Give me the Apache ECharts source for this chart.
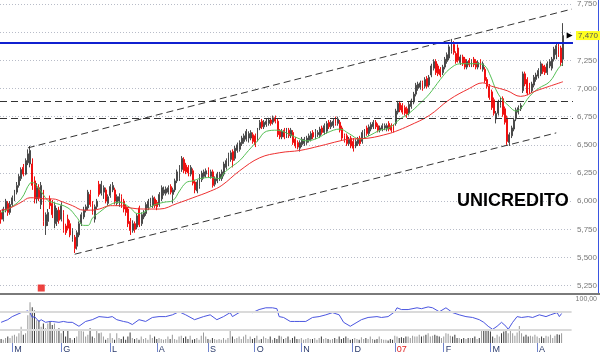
<!DOCTYPE html>
<html><head><meta charset="utf-8">
<script src="https://cdn.jsdelivr.net/npm/echarts@6/dist/echarts.min.js"></script>
<style>html,body{margin:0;padding:0;background:#fff}#c{width:600px;height:354px}</style>
</head><body><div id="c"></div>
<script>
// ---- price data (daily candles) ----
const openP = [5.90,5.84,5.92,5.98,5.90,5.97,6.02,6.08,6.14,6.20,
6.30,6.24,6.34,6.33,6.33,6.18,6.02,6.12,5.97,6.08,
5.78,5.82,6.02,5.98,5.80,5.82,5.92,5.84,5.90,5.78,
5.84,5.80,5.66,5.68,5.60,5.70,5.80,5.86,5.92,5.94,
6.06,5.98,5.84,5.95,6.15,6.07,6.08,6.10,5.98,6.05,
6.10,6.10,5.98,6.00,6.04,6.00,5.95,5.93,5.82,5.74,
5.80,5.77,5.94,5.80,5.86,5.89,5.94,5.98,5.96,6.02,
5.99,5.97,6.02,6.07,6.07,6.08,6.13,6.06,6.10,6.18,
6.20,6.28,6.37,6.32,6.30,6.24,6.27,6.17,6.09,6.13,
6.19,6.22,6.24,6.28,6.22,6.26,6.15,6.18,6.20,6.20,
6.24,6.30,6.33,6.37,6.44,6.38,6.45,6.46,6.51,6.53,
6.55,6.56,6.56,6.59,6.58,6.55,6.65,6.71,6.66,6.68,
6.69,6.72,6.70,6.74,6.71,6.62,6.57,6.63,6.58,6.63,
6.58,6.61,6.55,6.52,6.47,6.50,6.51,6.52,6.54,6.55,
6.61,6.57,6.59,6.58,6.65,6.61,6.62,6.70,6.66,6.67,
6.73,6.69,6.70,6.65,6.58,6.58,6.51,6.56,6.53,6.49,
6.51,6.56,6.53,6.58,6.65,6.60,6.64,6.66,6.70,6.67,
6.63,6.64,6.65,6.64,6.69,6.67,6.66,6.69,6.79,6.87,
6.85,6.83,6.82,6.78,6.84,6.88,6.95,7.00,7.01,7.05,
7.02,7.09,7.03,7.12,7.18,7.24,7.20,7.17,7.14,7.19,
7.24,7.27,7.33,7.39,7.31,7.36,7.23,7.28,7.26,7.19,
7.25,7.21,7.26,7.24,7.19,7.24,7.17,7.17,7.08,7.02,
6.97,6.90,6.73,6.78,6.85,6.91,6.82,6.74,6.52,6.58,
6.64,6.73,6.79,6.82,6.98,7.13,7.08,7.03,6.98,7.03,
7.08,7.11,7.13,7.20,7.19,7.14,7.20,7.18,7.26,7.30,
7.37,7.36,7.26];
const closeP = [5.84,5.93,6.00,5.90,5.97,6.03,6.08,6.14,6.22,6.28,
6.24,6.36,6.42,6.45,6.14,6.02,6.12,6.03,6.14,5.82,
5.88,5.90,5.96,5.88,5.96,5.92,5.83,5.96,5.74,5.72,
5.76,5.70,5.74,5.58,5.72,5.80,5.88,5.92,5.95,6.08,
5.97,5.90,5.95,6.00,6.06,6.15,6.12,6.00,6.04,6.13,
6.14,6.00,6.04,6.04,5.96,5.93,5.90,5.80,5.74,5.80,
5.75,5.87,5.79,5.88,5.90,5.97,6.00,6.01,6.03,5.96,
5.95,6.06,6.12,6.10,6.11,6.12,6.08,6.10,6.18,6.26,
6.30,6.38,6.27,6.26,6.25,6.30,6.16,6.10,6.17,6.22,
6.25,6.26,6.27,6.23,6.26,6.14,6.20,6.24,6.24,6.26,
6.33,6.36,6.41,6.43,6.36,6.47,6.50,6.52,6.56,6.58,
6.62,6.60,6.61,6.53,6.50,6.63,6.70,6.66,6.70,6.71,
6.72,6.69,6.74,6.71,6.59,6.57,6.62,6.57,6.63,6.58,
6.63,6.52,6.49,6.48,6.52,6.55,6.55,6.56,6.58,6.60,
6.57,6.62,6.61,6.64,6.61,6.67,6.69,6.66,6.70,6.71,
6.69,6.73,6.63,6.56,6.54,6.51,6.55,6.49,6.47,6.53,
6.55,6.51,6.61,6.62,6.60,6.66,6.68,6.70,6.66,6.63,
6.65,6.67,6.67,6.67,6.64,6.63,6.63,6.80,6.87,6.81,
6.79,6.78,6.77,6.86,6.89,6.95,7.03,7.04,7.05,7.00,
7.08,7.02,7.10,7.20,7.24,7.14,7.13,7.12,7.19,7.26,
7.30,7.37,7.40,7.32,7.24,7.25,7.28,7.22,7.19,7.24,
7.21,7.24,7.21,7.19,7.23,7.19,7.22,7.07,7.02,6.92,
6.83,6.78,6.78,6.88,6.90,6.77,6.70,6.53,6.59,6.65,
6.72,6.81,6.83,6.85,7.13,7.04,6.96,6.97,7.04,7.10,
7.12,7.16,7.22,7.15,7.14,7.22,7.24,7.26,7.35,7.38,
7.30,7.23,7.47];
const lowP = [5.80,5.82,5.90,5.87,5.88,5.95,6.00,6.06,6.12,6.18,
6.22,6.23,6.32,6.30,6.10,5.98,5.98,6.00,5.93,5.78,
5.70,5.78,5.93,5.85,5.76,5.78,5.80,5.82,5.72,5.70,
5.74,5.68,5.64,5.54,5.57,5.68,5.78,5.84,5.90,5.92,
5.95,5.88,5.81,5.93,6.04,6.05,6.02,5.98,5.96,6.03,
6.08,5.97,5.96,5.95,5.94,5.90,5.87,5.77,5.70,5.72,
5.72,5.75,5.77,5.78,5.84,5.87,5.92,5.95,5.94,5.94,
5.92,5.95,6.00,6.05,6.05,6.06,6.06,5.98,6.08,6.16,
6.18,6.26,6.25,6.24,6.22,6.22,6.14,6.07,6.07,6.11,
6.17,6.20,6.21,6.21,6.20,6.12,6.13,6.16,6.18,6.18,
6.22,6.28,6.31,6.35,6.30,6.36,6.43,6.44,6.49,6.51,
6.53,6.52,6.54,6.51,6.48,6.53,6.63,6.64,6.64,6.66,
6.67,6.67,6.68,6.69,6.57,6.55,6.55,6.55,6.56,6.56,
6.56,6.50,6.47,6.46,6.44,6.48,6.49,6.50,6.52,6.53,
6.55,6.55,6.57,6.56,6.59,6.59,6.60,6.64,6.64,6.65,
6.67,6.67,6.61,6.54,6.52,6.49,6.49,6.47,6.44,6.47,
6.49,6.49,6.51,6.56,6.58,6.58,6.62,6.64,6.64,6.61,
6.61,6.62,6.63,6.62,6.62,6.61,6.61,6.67,6.77,6.79,
6.77,6.76,6.74,6.76,6.82,6.86,6.93,6.98,6.99,6.98,
7.00,7.00,7.01,7.10,7.16,7.12,7.11,7.10,7.12,7.17,
7.22,7.25,7.31,7.30,7.22,7.23,7.21,7.20,7.17,7.17,
7.19,7.19,7.19,7.17,7.17,7.17,7.15,7.05,7.00,6.90,
6.81,6.76,6.69,6.76,6.83,6.75,6.68,6.50,6.49,6.56,
6.62,6.71,6.77,6.80,6.96,7.02,6.94,6.95,6.96,7.01,
7.06,7.09,7.11,7.13,7.12,7.12,7.18,7.16,7.24,7.26,
7.28,7.20,7.20];
const highP = [5.92,5.95,6.02,6.00,6.00,6.05,6.10,6.17,6.24,6.30,
6.33,6.38,6.46,6.49,6.38,6.22,6.16,6.15,6.17,6.10,
5.90,5.93,6.05,6.01,5.99,5.94,5.95,5.99,5.92,5.80,
5.88,5.83,5.76,5.70,5.74,5.82,5.90,5.95,5.97,6.10,
6.10,6.00,5.97,6.02,6.18,6.18,6.14,6.12,6.06,6.15,
6.17,6.12,6.06,6.07,6.06,6.02,5.97,5.95,5.85,5.83,
5.82,5.89,5.96,5.90,5.92,5.99,6.02,6.03,6.05,6.04,
6.01,6.08,6.14,6.13,6.13,6.14,6.15,6.12,6.20,6.28,
6.32,6.40,6.39,6.34,6.32,6.32,6.29,6.19,6.19,6.24,
6.27,6.28,6.29,6.30,6.28,6.28,6.22,6.26,6.26,6.28,
6.35,6.38,6.43,6.45,6.46,6.49,6.52,6.54,6.58,6.60,
6.64,6.62,6.63,6.61,6.60,6.65,6.72,6.73,6.72,6.73,
6.74,6.74,6.76,6.76,6.73,6.64,6.64,6.65,6.65,6.65,
6.65,6.63,6.57,6.54,6.54,6.57,6.57,6.58,6.60,6.62,
6.63,6.64,6.63,6.66,6.67,6.69,6.71,6.72,6.72,6.73,
6.75,6.75,6.72,6.67,6.60,6.60,6.57,6.58,6.56,6.55,
6.57,6.58,6.63,6.64,6.67,6.68,6.70,6.72,6.72,6.69,
6.67,6.69,6.69,6.69,6.71,6.69,6.68,6.82,6.89,6.89,
6.87,6.85,6.84,6.88,6.91,6.97,7.05,7.06,7.07,7.07,
7.10,7.11,7.12,7.22,7.26,7.26,7.22,7.19,7.21,7.28,
7.32,7.39,7.44,7.42,7.33,7.39,7.30,7.30,7.28,7.26,
7.27,7.26,7.28,7.26,7.25,7.26,7.24,7.19,7.10,7.04,
6.99,6.92,6.80,6.90,6.92,6.93,6.84,6.76,6.61,6.67,
6.74,6.83,6.85,6.87,7.15,7.15,7.10,7.05,7.06,7.12,
7.14,7.18,7.24,7.22,7.21,7.24,7.26,7.28,7.37,7.40,
7.40,7.38,7.58];
// volume (relative units)
const volume = [12,10,15,20,15,22,25,20,30,
50,25,30,85,125,110,100,70,70,50,60,45,
60,65,55,60,40,45,30,40,20,40,
15,10,15,20,40,40,35,20,25,45,
20,15,40,30,32,20,10,15,30,15,
10,30,15,12,20,10,20,32,15,12,
15,10,20,12,15,10,25,15,20,12,
15,12,10,12,20,12,25,12,10,20,
22,15,20,12,22,10,12,15,10,22,
32,20,12,10,15,12,10,12,10,15,
10,15,38,20,12,15,20,12,20,25,
12,20,12,15,22,10,12,20,15,12,
20,10,15,12,22,20,12,15,20,10,
15,20,12,
12,15,10,12,15,12,12,15,10,15,
20,12,15,12,10,12,15,12,20,12,
15,20,15,10,12,15,12,10,18,12,
15,12,20,12,10,12,20,12,10,10,
8,12,10,22,20,15,18,15,20,20,
15,22,20,20,25,20,22,25,30,20,
22,25,22,20,15,20,30,28,22,20,
25,15,15,12,15,12,15,15,15,20,
12,15,38,40,42,40,35,20,15,25,
20,30,35,40,30,38,30,22,32,52,
30,20,25,20,22,20,25,20,15,20,
15,22,20,25,15,22,27,25,30];
// moving averages read at sample points [dayIndex, value]
const maShort = [[0,5.90],[4,5.94],[9,6.02],[13,6.16],[14,6.165],[17,6.11],[21,6.005],[23,5.99],[30,5.94],[34,5.855],[37,5.785],[39,5.785],[41,5.85],[44,5.90],[49,5.97],[53,5.99],[58,5.94],[61,5.89],[64,5.90],[68,5.96],[73,5.99],[77,6.005],[80,6.09],[83,6.165],[86,6.18],[89,6.20],[94,6.21],[98,6.20],[100,6.25],[103,6.30],[107,6.36],[111,6.45],[115,6.535],[119,6.62],[124,6.63],[128,6.605],[133,6.56],[137,6.535],[142,6.56],[146,6.605],[152,6.64],[156,6.60],[161,6.55],[165,6.58],[170,6.63],[174,6.65],[179,6.73],[183,6.78],[188,6.87],[192,6.95],[197,7.08],[201,7.17],[206,7.22],[210,7.22],[214,7.22],[217,7.20],[219,7.135],[223,6.95],[228,6.84],[231,6.80],[233,6.82],[237,6.93],[241,7.00],[246,7.06],[250,7.18],[252,7.22]];
const maLong = [[0,5.92],[4,5.94],[9,5.99],[13,6.03],[16,6.03],[19,6.02],[23,6.02],[28,5.99],[32,5.96],[37,5.92],[40,5.92],[44,5.93],[49,5.96],[53,5.96],[58,5.94],[64,5.93],[71,5.93],[79,5.98],[86,6.03],[94,6.09],[99,6.14],[107,6.27],[116,6.385],[125,6.43],[134,6.45],[143,6.49],[152,6.535],[156,6.55],[165,6.56],[174,6.60],[177,6.62],[183,6.67],[192,6.76],[201,6.90],[210,7.00],[216,7.05],[220,7.02],[227,6.98],[233,6.93],[240,6.98],[246,7.02],[252,7.06]];
// oscillator (0-100) sample points
const osc = [[0,47],[3,53],[5,60],[9,69],[12,73],[13,69],[14,58],[15,60],[17,49],[18,53],[20,47],[22,49],[23,49],[26,47],[28,49],[30,47],[32,47],[35,38],[38,49],[41,53],[44,60],[48,58],[50,60],[52,53],[55,49],[57,47],[59,42],[62,53],[65,49],[68,58],[71,60],[74,60],[77,64],[80,71],[83,64],[87,53],[91,60],[94,64],[97,53],[100,60],[103,69],[104,60],[107,69],[110,71],[113,69],[116,76],[119,80],[122,80],[124,78],[125,60],[127,58],[130,49],[132,49],[134,49],[137,49],[140,58],[143,60],[146,64],[149,69],[152,64],[154,47],[157,38],[160,47],[162,53],[165,58],[169,60],[171,58],[174,60],[177,71],[178,80],[180,76],[183,76],[187,80],[189,78],[192,82],[194,80],[197,71],[200,80],[203,69],[206,64],[209,60],[212,58],[215,53],[217,47],[219,38],[221,31],[223,38],[225,47],[227,38],[228,31],[230,47],[232,60],[234,58],[237,60],[239,58],[242,64],[245,60],[247,64],[250,69],[251,60],[252,67]];
// axis texts
const yTicks = [5.25,5.5,5.75,6,6.25,6.5,6.75,7,7.25,7.5,7.75];
const monthIdx = [5,27,49,70,93,114,135,158,177,199,220,241];
const monthLabels = ['M','G','L','A','S','O','N','D','07','F','M','A'];
// reference lines / annotations
const upperTrend = [[12,6.473],[256,7.705]];
const lowerTrend = [[33,5.529],[249,6.606]];
const supportLevels = [6.89, 6.735];
const resistLevel = 7.41;
const lastPrice = 7.47;
const eventMarks = [[18,5.229]];
const N_CAT = 257;
const cats = Array.from({length:N_CAT},(_,i)=>String(i));

const candles = openP.map((o,i)=>[o, closeP[i], lowP[i], highP[i]]);
const volData = volume.map((v,i)=>({value:v, itemStyle:{color: closeP[i] < openP[i] ? '#3a3a3a' : '#9a9a9a'}}));
const fmt = v => v.toFixed(3).replace('.', ',');

const chart = echarts.init(document.getElementById('c'), null, {renderer:'canvas'});
chart.setOption({
  animation:false,
  backgroundColor:'#fff',
  title:{text:'UNICREDITO', left:452, top:187, textStyle:{fontFamily:'Liberation Sans', fontWeight:'bold', fontSize:18, color:'#000'}},
  grid:[
    {left:0, right:26, top:2.35, height:283.3},
    {left:0, right:26, top:299, height:45}
  ],
  xAxis:[
    {type:'category', gridIndex:0, data:cats, boundaryGap:true, axisLine:{show:false}, axisTick:{show:false}, axisLabel:{show:false}, splitLine:{show:false}},
    {type:'category', gridIndex:1, data:cats, boundaryGap:true, axisLine:{show:false},
      axisTick:{show:true, alignWithLabel:true, length:9, interval:(i)=>monthIdx.includes(i), lineStyle:{color:'#6f83cc', width:1}},
      axisLabel:{show:true, interval:(i)=>monthIdx.includes(i), align:'left', margin:2, padding:[0,0,0,2], fontSize:9, fontFamily:'Liberation Sans',
        formatter:(v,i)=>{const k=monthIdx.indexOf(Number(v)); return k>=0?monthLabels[k]:'';},
        color:(v)=>{const k=monthIdx.indexOf(Number(v)); return (k>=0 && monthLabels[k]==='07')?'#e02020':'#2a3a6a';}},
      splitLine:{show:false}}
  ],
  yAxis:[
    {type:'value', gridIndex:0, position:'right', min:5.25, max:7.75, interval:0.25,
      axisLine:{show:false}, axisTick:{show:false},
      axisLabel:{margin:4, fontSize:8, fontFamily:'Liberation Sans', color:'#777', formatter:(v)=> Math.abs(v-7.5)<1e-6 ? '' : fmt(v)},
      splitLine:{show:true, lineStyle:{type:[1,2], color:'#b8bcc8', width:1}}},
    {type:'value', gridIndex:1, position:'right', min:0, max:100, interval:100,
      axisLine:{show:false}, axisTick:{show:false}, splitLine:{show:false},
      axisLabel:{margin:4, fontSize:7, fontFamily:'Liberation Sans', color:'#777', formatter:(v)=> v===100?'100,00':''}},
    {type:'value', gridIndex:1, min:0, max:135, show:false}
  ],
  series:[
    {type:'candlestick', xAxisIndex:0, yAxisIndex:0, data:candles, barWidth:1.4,
      itemStyle:{color:'#a6a6a6', color0:'#ff2a2a', borderColor:'#4a4a4a', borderColor0:'#f01010', borderWidth:1},
      markLine:{silent:true, symbol:'none', animation:false,
        data:[
          [{coord:upperTrend[0]},{coord:upperTrend[1]}],
          [{coord:lowerTrend[0]},{coord:lowerTrend[1]}],
          {yAxis:supportLevels[0]},
          {yAxis:supportLevels[1]},
          {yAxis:resistLevel, lineStyle:{type:'solid', color:'#1020d0', width:2}}
        ],
        lineStyle:{type:[7,4], color:'#333', width:1},
        label:{show:false}},
      markPoint:{silent:true, animation:false,
        data:[{coord:[255,lastPrice], symbol:'triangle', symbolRotate:-90, symbolSize:[6,6], itemStyle:{color:'#000'}, label:{show:false}}]}
    },
    {type:'line', xAxisIndex:0, yAxisIndex:0, data:maShort, smooth:0.4, showSymbol:false, symbol:'none', lineStyle:{color:'#55c055', width:1}, z:3},
    {type:'line', xAxisIndex:0, yAxisIndex:0, data:maLong, smooth:0.4, showSymbol:false, symbol:'none', lineStyle:{color:'#ee3030', width:1}, z:3,
      markLine:{silent:true, symbol:'none', animation:false,
        data:[{yAxis:lastPrice}],
        lineStyle:{color:'rgba(0,0,0,0)', width:0},
        label:{show:true, position:'end', distance:3, formatter:fmt(lastPrice), backgroundColor:'#ffff20', color:'#555', fontSize:8, fontFamily:'Liberation Sans', padding:[1,2,0,2]}}},
    {type:'scatter', xAxisIndex:0, yAxisIndex:0, data:eventMarks, symbol:'rect', symbolSize:7, clip:false, itemStyle:{color:'#e81410'}, z:5},
    {type:'bar', xAxisIndex:1, yAxisIndex:2, data:volData, barWidth:1},
    {type:'line', xAxisIndex:1, yAxisIndex:1, data:osc, showSymbol:false, symbol:'none', lineStyle:{color:'#4a55e0', width:1}, z:4,
      markLine:{silent:true, symbol:'none', animation:false, label:{show:false},
        lineStyle:{type:'solid', color:'#dadada', width:2},
        data:[{yAxis:70},{yAxis:30}]}}
  ],
  graphic:[
    {type:'rect', left:0, top:293, shape:{width:600, height:2}, style:{fill:'#7a7a7a'}, silent:true},
    {type:'line', shape:{x1:598.5, y1:0, x2:598.5, y2:293}, style:{stroke:'#3a55e0', lineWidth:1}, silent:true}
  ]
});
</script>
</body></html>
